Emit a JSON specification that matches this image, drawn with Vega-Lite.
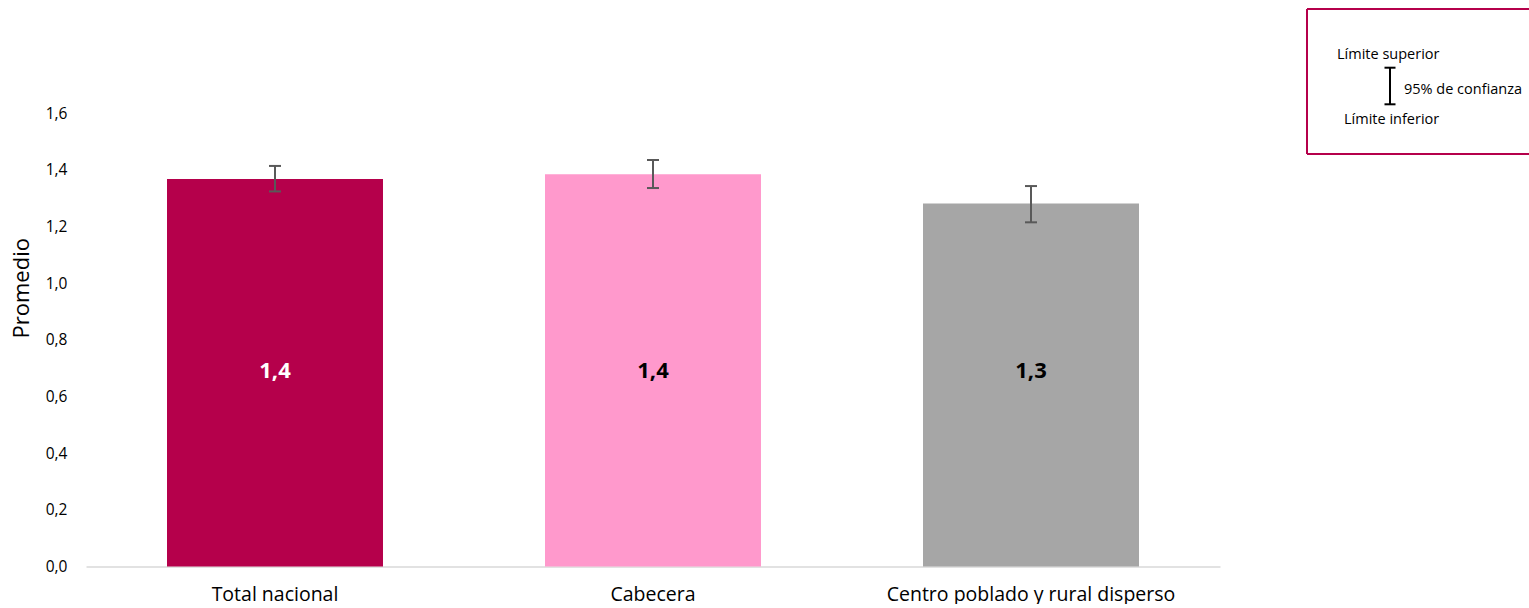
{
  "$schema": "https://vega.github.io/schema/vega-lite/v6.json",
  "padding": {"left": 10, "top": 8, "right": 0, "bottom": 0},
  "background": "white",
  "config": {
    "locale": {"number": {"decimal": ",", "thousands": ".", "grouping": [3], "currency": ["", " €"]}},
    "font": "Open Sans",
    "view": {"stroke": null},
    "concat": {"spacing": 86}
  },
  "datasets": {
    "bars": [
      {"category": "Total nacional", "value": 1.368, "lower": 1.324, "upper": 1.414},
      {"category": "Cabecera", "value": 1.385, "lower": 1.336, "upper": 1.435},
      {"category": "Centro poblado y rural disperso", "value": 1.281, "lower": 1.215, "upper": 1.343}
    ],
    "legendText": [
      {"label": "Límite superior", "x": 30, "y": 45.5},
      {"label": "95% de confianza", "x": 97, "y": 80.5},
      {"label": "Límite inferior", "x": 37, "y": 110.5}
    ],
    "legendLines": [
      {"x": 83, "x2": 83, "y": 58.7, "y2": 95.3},
      {"x": 77.5, "x2": 88.5, "y": 58.7, "y2": 58.7},
      {"x": 77.5, "x2": 88.5, "y": 95.3, "y2": 95.3}
    ],
    "legendFrame": [
      {"x": 0, "x2": 222, "y": 0, "y2": 0},
      {"x": 0, "x2": 222, "y": 145, "y2": 145},
      {"x": 0, "x2": 0, "y": 0, "y2": 145}
    ]
  },
  "hconcat": [
    {
      "width": 1134,
      "height": 557.5,
      "data": {"name": "bars"},
      "encoding": {
        "x": {
          "field": "category",
          "type": "nominal",
          "sort": null,
          "scale": {"paddingInner": 0.4286, "paddingOuter": 0.2143},
          "axis": {
            "title": null,
            "labelAngle": 0,
            "labelFontSize": 19.5,
            "labelLimit": 0,
            "labelColor": "#000000",
            "labelPadding": 19,
            "ticks": false,
            "domainColor": "#d9d9d9",
            "domainWidth": 1.5
          }
        }
      },
      "layer": [
        {
          "mark": {"type": "bar"},
          "encoding": {
            "y": {
              "field": "value",
              "type": "quantitative",
              "scale": {"domain": [0, 1.968], "nice": false},
              "axis": {
                "title": "Promedio",
                "titleFontSize": 22,
                "titleFontWeight": "normal",
                "titleColor": "#000000",
                "titlePadding": 12,
                "values": [0, 0.2, 0.4, 0.6, 0.8, 1.0, 1.2, 1.4, 1.6],
                "format": ".1f",
                "labelFontSize": 15.5,
                "labelColor": "#000000",
                "labelPadding": 19,
                "ticks": false,
                "domain": false,
                "grid": false
              }
            },
            "color": {
              "field": "category",
              "type": "nominal",
              "scale": {
                "domain": ["Total nacional", "Cabecera", "Centro poblado y rural disperso"],
                "range": ["#b5004b", "#ff99cc", "#a6a6a6"]
              },
              "legend": null
            }
          }
        },
        {
          "mark": {"type": "rule", "color": "#595959", "strokeWidth": 2},
          "encoding": {
            "y": {"field": "lower", "type": "quantitative"},
            "y2": {"field": "upper"}
          }
        },
        {
          "mark": {"type": "tick", "orient": "horizontal", "size": 12, "thickness": 2, "color": "#595959", "opacity": 1},
          "encoding": {"y": {"field": "lower", "type": "quantitative"}}
        },
        {
          "mark": {"type": "tick", "orient": "horizontal", "size": 12, "thickness": 2, "color": "#595959", "opacity": 1},
          "encoding": {"y": {"field": "upper", "type": "quantitative"}}
        },
        {
          "mark": {"type": "text", "fontSize": 22, "fontWeight": "bold", "baseline": "middle", "align": "center"},
          "encoding": {
            "y": {"datum": 0.69, "type": "quantitative"},
            "text": {"field": "value", "type": "quantitative", "format": ".1f"},
            "color": {
              "condition": {"test": "datum.category === 'Total nacional'", "value": "#ffffff"},
              "value": "#000000"
            }
          }
        }
      ]
    },
    {
      "width": 222,
      "height": 145,
      "layer": [
        {
          "data": {"name": "legendFrame"},
          "mark": {"type": "rule", "color": "#b5004b", "strokeWidth": 2},
          "encoding": {
            "x": {"field": "x", "type": "quantitative", "scale": {"domain": [0, 222], "nice": false, "zero": false}, "axis": null},
            "x2": {"field": "x2"},
            "y": {"field": "y", "type": "quantitative", "scale": {"domain": [145, 0], "nice": false, "zero": false}, "axis": null},
            "y2": {"field": "y2"}
          }
        },
        {
          "data": {"name": "legendText"},
          "mark": {"type": "text", "align": "left", "baseline": "middle", "fontSize": 14.5, "color": "#000000"},
          "encoding": {
            "x": {"field": "x", "type": "quantitative"},
            "y": {"field": "y", "type": "quantitative"},
            "text": {"field": "label", "type": "nominal"}
          }
        },
        {
          "data": {"name": "legendLines"},
          "mark": {"type": "rule", "color": "#000000", "strokeWidth": 2},
          "encoding": {
            "x": {"field": "x", "type": "quantitative"},
            "x2": {"field": "x2"},
            "y": {"field": "y", "type": "quantitative"},
            "y2": {"field": "y2"}
          }
        }
      ]
    }
  ]
}
